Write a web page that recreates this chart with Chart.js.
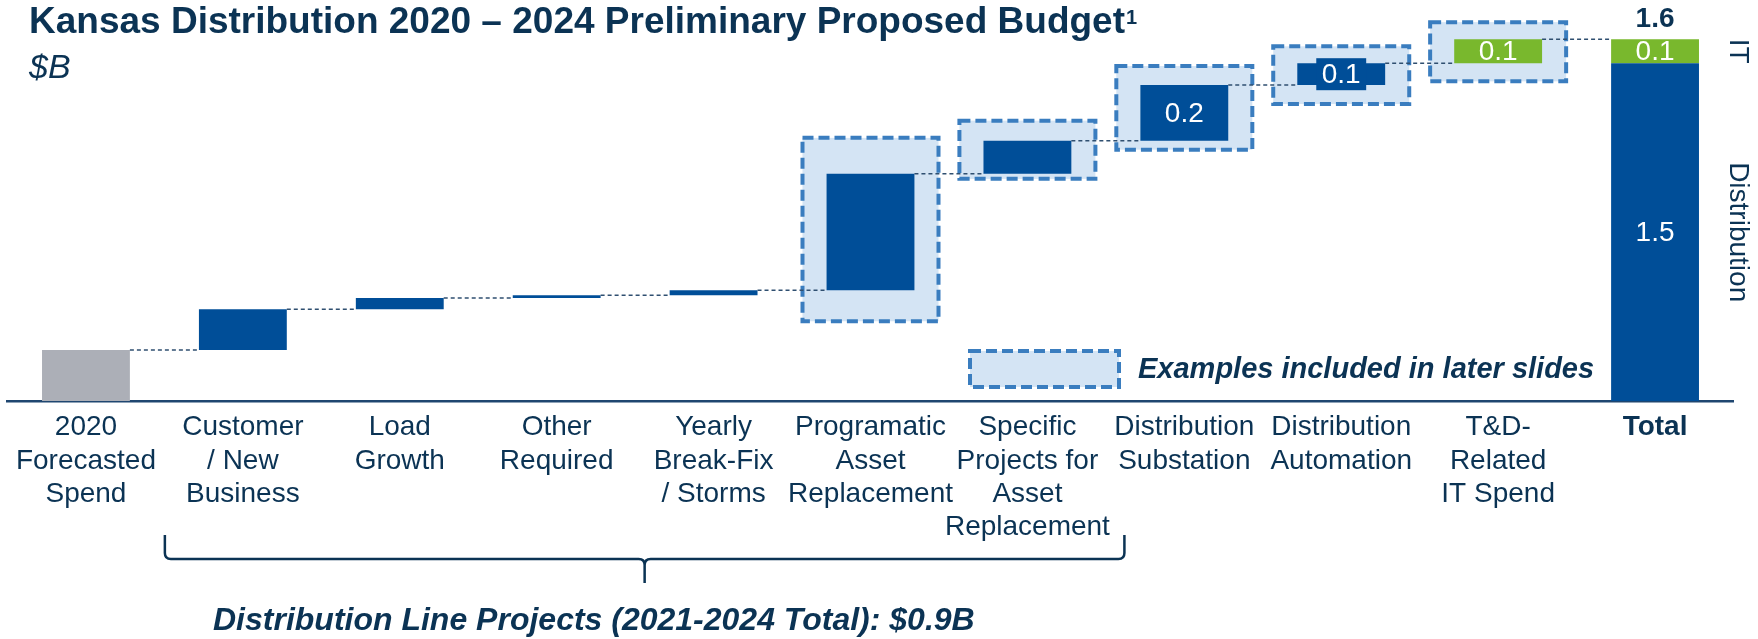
<!DOCTYPE html>
<html>
<head>
<meta charset="utf-8">
<script src="https://cdn.jsdelivr.net/npm/chart.js@4/dist/chart.umd.min.js"></script>
<style>
html,body{margin:0;padding:0;background:#ffffff;}
#wrap{width:1758px;height:639px;position:relative;}
</style>
</head>
<body>
<div id="wrap"><canvas id="c"></canvas></div>
<script>
// ---------- DATA ----------
const categories = [
  ['2020','Forecasted','Spend'],
  ['Customer','/ New','Business'],
  ['Load','Growth'],
  ['Other','Required'],
  ['Yearly','Break-Fix','/ Storms'],
  ['Programatic','Asset','Replacement'],
  ['Specific','Projects for','Asset','Replacement'],
  ['Distribution','Substation'],
  ['Distribution','Automation'],
  ['T&D-','Related','IT Spend'],
  ['Total']
];
// $B, 2020 base followed by 2021-2024 increments
const stepValues = [0.226, 0.180, 0.050, 0.012, 0.022, 0.515, 0.147, 0.246, 0.096, 0.107];
const itStepIndex = 9;                  // T&D-Related IT Spend
const labeledSteps = [7, 8, 9];         // steps whose value is printed
const highlightedSteps = [5, 6, 7, 8, 9]; // "Examples included in later slides"
const segmentNames = ['Distribution', 'IT'];

const titleText = 'Kansas Distribution 2020 \u2013 2024 Preliminary Proposed Budget';
const titleNote = '1';
const unitText = '$B';
const legendText = 'Examples included in later slides';
const braceText = 'Distribution Line Projects (2021-2024 Total): $0.9B';
const braceRange = [1, 6];

// ---------- DERIVED ----------
const floating = [];
let acc = 0;
stepValues.forEach(v => { floating.push([acc, acc + v]); acc += v; });
const grandTotal = acc;
const totalIT = stepValues[itStepIndex];
const totalDistribution = grandTotal - totalIT;
const n = categories.length;
const stepData = floating.concat([null]);
const totalDistData = Array(n).fill(null); totalDistData[n-1] = [0, totalDistribution];
const totalITData = Array(n).fill(null); totalITData[n-1] = [totalDistribution, grandTotal];

// ---------- STYLE ----------
const NAVY = '#0b3354';
const BLUE = '#004e98';
const GREEN = '#79b82d';
const GRAY = '#acafb7';
const BOX_FILL = '#d4e4f4';
const BOX_LINE = '#3a7dbf';
const FONT = '"Liberation Sans", Arial, sans-serif';
const boxHalfWidth = 68;
const boxPadTop = [36, 20, 19, 17, 17];
const boxPadBottom = [31, 5, 9, 19, 18];
const boxedLabels = [8];
const braceOverhang = [78, 97];

Chart.defaults.font.family = FONT;

const decor = {
  id: 'decor',
  beforeDatasetsDraw(chart) {
    const ctx = chart.ctx;
    const meta = chart.getDatasetMeta(0);
    ctx.save();
    highlightedSteps.forEach((idx, k) => {
      const el = meta.data[idx];
      const top = Math.min(el.y, el.base) - boxPadTop[k];
      const bot = Math.max(el.y, el.base) + boxPadBottom[k];
      const x0 = el.x - boxHalfWidth, x1 = el.x + boxHalfWidth;
      ctx.fillStyle = BOX_FILL;
      ctx.fillRect(x0, top, x1 - x0, bot - top);
    });
    ctx.restore();
  },
  afterDatasetsDraw(chart) {
    const ctx = chart.ctx;
    const meta = chart.getDatasetMeta(0);
    const metaTD = chart.getDatasetMeta(1);
    const metaTI = chart.getDatasetMeta(2);
    ctx.save();
    // dashed box borders
    highlightedSteps.forEach((idx, k) => {
      const el = meta.data[idx];
      const top = Math.min(el.y, el.base) - boxPadTop[k];
      const bot = Math.max(el.y, el.base) + boxPadBottom[k];
      const x0 = el.x - boxHalfWidth, x1 = el.x + boxHalfWidth;
      ctx.strokeStyle = BOX_LINE;
      ctx.lineWidth = 4;
      ctx.setLineDash([11, 5]);
      ctx.strokeRect(x0, top, x1 - x0, bot - top);
    });
    // connectors
    ctx.setLineDash([4, 3]);
    ctx.lineWidth = 1.5;
    ctx.strokeStyle = '#2f4f70';
    for (let i = 0; i < stepValues.length; i++) {
      const el = meta.data[i];
      const y = Math.min(el.y, el.base);
      const next = i + 1 < stepValues.length ? meta.data[i+1] : metaTI.data[n-1];
      ctx.beginPath();
      ctx.moveTo(el.x + el.width/2, y);
      ctx.lineTo(next.x - next.width/2, y);
      ctx.stroke();
    }
    ctx.setLineDash([]);
    // value labels
    ctx.textAlign = 'center';
    ctx.textBaseline = 'middle';
    ctx.font = '28px ' + FONT;
    labeledSteps.forEach(idx => {
      const el = meta.data[idx];
      const cy = (el.y + el.base) / 2;
      const txt = stepValues[idx].toFixed(1);
      if (boxedLabels.includes(idx)) {
        const w = ctx.measureText(txt).width + 11;
        ctx.fillStyle = BLUE;
        ctx.fillRect(el.x - w/2, cy - 16, w, 32);
      }
      ctx.fillStyle = '#ffffff';
      ctx.fillText(txt, el.x, cy + 1);
    });
    const td = metaTD.data[n-1], ti = metaTI.data[n-1];
    ctx.fillStyle = '#ffffff';
    ctx.fillText(totalDistribution.toFixed(1), td.x, (td.y + td.base)/2 + 1);
    ctx.fillText(totalIT.toFixed(1), ti.x, (ti.y + ti.base)/2 + 1);
    ctx.fillStyle = NAVY;
    ctx.font = 'bold 28px ' + FONT;
    ctx.fillText(grandTotal.toFixed(1), ti.x, ti.y - 20);
    // side segment names (rotated)
    ctx.font = '28px ' + FONT;
    ctx.fillStyle = NAVY;
    [[td, segmentNames[0]], [ti, segmentNames[1]]].forEach(([el, name]) => {
      ctx.save();
      ctx.translate(1738, (el.y + el.base)/2);
      ctx.rotate(Math.PI/2);
      ctx.fillText(name, 0, 0);
      ctx.restore();
    });
    ctx.restore();
  },
  afterDraw(chart) {
    const ctx = chart.ctx;
    ctx.save();
    ctx.fillStyle = NAVY;
    ctx.textBaseline = 'alphabetic';
    ctx.textAlign = 'left';
    // title
    ctx.font = 'bold 37px ' + FONT;
    ctx.fillText(titleText, 29, 33);
    const tw = ctx.measureText(titleText).width;
    ctx.font = 'bold 20px ' + FONT;
    ctx.fillText(titleNote, 29 + tw + 1, 24);
    ctx.font = 'italic 34px ' + FONT;
    ctx.fillText(unitText, 29, 78);
    // legend
    ctx.fillStyle = BOX_FILL;
    ctx.fillRect(970, 351, 149, 36);
    ctx.strokeStyle = BOX_LINE;
    ctx.lineWidth = 4;
    ctx.setLineDash([11, 5]);
    ctx.strokeRect(970, 351, 149, 36);
    ctx.setLineDash([]);
    ctx.fillStyle = NAVY;
    ctx.font = 'italic bold 29px ' + FONT;
    ctx.textBaseline = 'middle';
    ctx.fillText(legendText, 1138, 370);
    // brace under distribution line projects
    const meta = chart.getDatasetMeta(0);
    const bl = meta.data[braceRange[0]].x - braceOverhang[0];
    const br = meta.data[braceRange[1]].x + braceOverhang[1];
    const mid = (bl + br) / 2;
    const yTop = 535, yLine = 559, yTip = 583, r = 6;
    ctx.strokeStyle = NAVY;
    ctx.lineWidth = 2.5;
    ctx.beginPath();
    ctx.moveTo(bl, yTop);
    ctx.lineTo(bl, yLine - r);
    ctx.quadraticCurveTo(bl, yLine, bl + r, yLine);
    ctx.lineTo(mid - r, yLine);
    ctx.quadraticCurveTo(mid, yLine, mid, yLine + r);
    ctx.lineTo(mid, yTip);
    ctx.moveTo(mid, yLine + r);
    ctx.quadraticCurveTo(mid, yLine, mid + r, yLine);
    ctx.lineTo(br - r, yLine);
    ctx.quadraticCurveTo(br, yLine, br, yLine - r);
    ctx.lineTo(br, yTop);
    ctx.stroke();
    ctx.font = 'italic bold 32px ' + FONT;
    ctx.textBaseline = 'alphabetic';
    ctx.fillText(braceText, 213, 630);
    ctx.restore();
  }
};

new Chart(document.getElementById('c'), {
  type: 'bar',
  data: {
    labels: categories,
    datasets: [
      {
        label: 'Steps',
        data: stepData,
        backgroundColor: stepData.map((d, i) => i === 0 ? GRAY : (i === itStepIndex ? GREEN : BLUE)),
        grouped: false,
        borderSkipped: false
      },
      { label: segmentNames[0], data: totalDistData, backgroundColor: BLUE, grouped: false },
      { label: segmentNames[1], data: totalITData, backgroundColor: GREEN, grouped: false }
    ]
  },
  options: {
    responsive: true,
    maintainAspectRatio: false,
    animation: false,
    layout: { padding: { top: 16.8, bottom: 0, left: 7.5, right: 24.5 } },
    datasets: { bar: { categoryPercentage: 1, barPercentage: 0.56 } },
    plugins: { legend: { display: false }, tooltip: { enabled: false }, title: { display: false } },
    scales: {
      x: {
        offset: true,
        grid: { display: false, drawTicks: false },
        border: { display: true, color: '#1f4670', width: 2.5 },
        ticks: {
          color: NAVY,
          padding: 10,
          maxRotation: 0,
          autoSkip: false,
          font: (c) => ({ size: 28, lineHeight: 1.19, family: FONT, weight: (c.index === categories.length - 1) ? 'bold' : 'normal' })
        },
        afterFit: (s) => { s.height = 238; }
      },
      y: { display: false, min: 0, max: 1.7 }
    }
  },
  plugins: [decor]
});
</script>
</body>
</html>
